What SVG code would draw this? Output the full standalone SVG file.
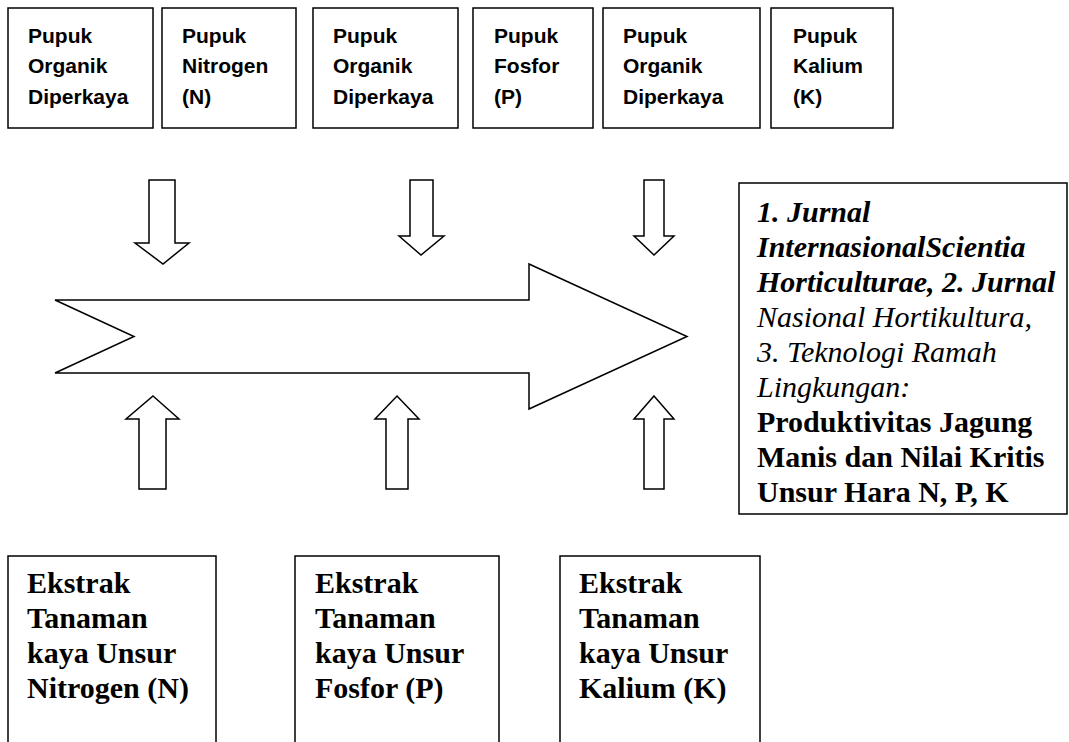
<svg xmlns="http://www.w3.org/2000/svg" width="1069" height="742" viewBox="0 0 1069 742">
<style>
.box{fill:#fff;stroke:#000;stroke-width:1.5}
.arr{fill:#fff;stroke:#000;stroke-width:1.5;stroke-linejoin:miter}
.ts{font-family:"Liberation Sans",Arial,sans-serif;font-weight:bold;font-size:21px;fill:#000}
.tb{font-family:"Liberation Serif","Times New Roman",serif;font-weight:bold;font-size:30px;fill:#000}
.bi{font-family:"Liberation Serif","Times New Roman",serif;font-weight:bold;font-style:italic;font-size:30px;fill:#000}
.it{font-family:"Liberation Serif","Times New Roman",serif;font-style:italic;font-size:30px;fill:#000}
</style>
<rect width="1069" height="742" fill="#fff"/>

<g id="top1"><rect class="box" x="8" y="8" width="145" height="120"/>
<text class="ts" x="28" y="43">Pupuk</text><text class="ts" x="28" y="73">Organik</text><text class="ts" x="28" y="104">Diperkaya</text></g>
<g id="top2"><rect class="box" x="162" y="8" width="134" height="120"/>
<text class="ts" x="182" y="43">Pupuk</text><text class="ts" x="182" y="73">Nitrogen</text><text class="ts" x="182" y="104">(N)</text></g>
<g id="top3"><rect class="box" x="313" y="8" width="145" height="120"/>
<text class="ts" x="333" y="43">Pupuk</text><text class="ts" x="333" y="73">Organik</text><text class="ts" x="333" y="104">Diperkaya</text></g>
<g id="top4"><rect class="box" x="473" y="8" width="120" height="120"/>
<text class="ts" x="494" y="43">Pupuk</text><text class="ts" x="494" y="73">Fosfor</text><text class="ts" x="494" y="104">(P)</text></g>
<g id="top5"><rect class="box" x="603" y="8" width="157" height="120"/>
<text class="ts" x="623" y="43">Pupuk</text><text class="ts" x="623" y="73">Organik</text><text class="ts" x="623" y="104">Diperkaya</text></g>
<g id="top6"><rect class="box" x="771" y="8" width="122" height="120"/>
<text class="ts" x="793" y="43">Pupuk</text><text class="ts" x="793" y="73">Kalium</text><text class="ts" x="793" y="104">(K)</text></g>

<g id="connectors">
<polygon id="main-arrow" class="arr" points="55,300 529,300 529,264 687,336.5 529,409 529,373 55,373 134,336.5"/>
<polygon class="arr" points="149,180 175,180 175,243 189,243 163,264 135,243 149,243"/>
<polygon class="arr" points="410,180 433,180 433,236 444,236 421,255 399,236 410,236"/>
<polygon class="arr" points="644,180 664,180 664,236 674,236 654,255 634,236 644,236"/>
<polygon class="arr" points="153,396 179,419 166,419 166,489 139,489 139,419 126,419"/>
<polygon class="arr" points="397,396 419,419 408,419 408,489 386,489 386,419 375,419"/>
<polygon class="arr" points="654,396 674,419 664,419 664,489 644,489 644,419 634,419"/>
</g>

<g id="result"><rect class="box" x="739" y="183" width="328" height="331"/>
<text class="bi" x="757" y="222">1. Jurnal</text>
<text class="bi" x="757" y="257">InternasionalScientia</text>
<text class="bi" x="757" y="292">Horticulturae, 2. Jurnal</text>
<text class="it" x="757" y="327">Nasional Hortikultura,</text>
<text class="it" x="757" y="362">3. Teknologi Ramah</text>
<text class="it" x="757" y="397">Lingkungan:</text>
<text class="tb" x="757" y="432">Produktivitas Jagung</text>
<text class="tb" x="757" y="467">Manis dan Nilai Kritis</text>
<text class="tb" x="757" y="502">Unsur Hara N, P, K</text></g>

<g id="bottom1"><rect class="box" x="8" y="556" width="208" height="200"/>
<text class="tb" x="27" y="593">Ekstrak</text><text class="tb" x="27" y="628">Tanaman</text><text class="tb" x="27" y="663">kaya Unsur</text><text class="tb" x="27" y="698">Nitrogen (N)</text></g>
<g id="bottom2"><rect class="box" x="295" y="556" width="204" height="200"/>
<text class="tb" x="315" y="593">Ekstrak</text><text class="tb" x="315" y="628">Tanaman</text><text class="tb" x="315" y="663">kaya Unsur</text><text class="tb" x="315" y="698">Fosfor (P)</text></g>
<g id="bottom3"><rect class="box" x="560" y="556" width="200" height="200"/>
<text class="tb" x="579" y="593">Ekstrak</text><text class="tb" x="579" y="628">Tanaman</text><text class="tb" x="579" y="663">kaya Unsur</text><text class="tb" x="579" y="698">Kalium (K)</text></g>
</svg>
